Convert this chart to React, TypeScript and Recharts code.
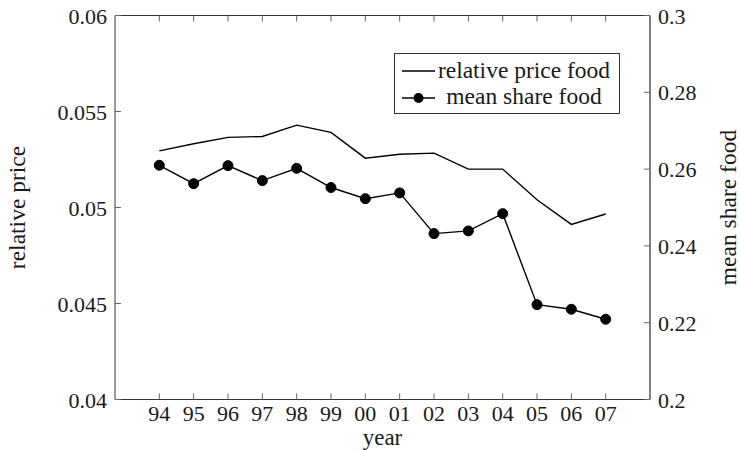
import React from 'react';
import { ComposedChart, Line, XAxis, YAxis, Legend } from 'recharts';

const years = ['94', '95', '96', '97', '98', '99', '00', '01', '02', '03', '04', '05', '06', '07'];
const relativePrice = [0.05295, 0.05332, 0.05365, 0.0537, 0.05429, 0.05391, 0.05257, 0.05277, 0.05283, 0.052, 0.052, 0.0504, 0.04912, 0.04966];
const meanShare = [0.261, 0.2562, 0.2609, 0.257, 0.2602, 0.2552, 0.2523, 0.2538, 0.2432, 0.2439, 0.2484, 0.2247, 0.2235, 0.2209];
const leftTicks = [0.04, 0.045, 0.05, 0.055, 0.06];
const rightTicks = [0.2, 0.22, 0.24, 0.26, 0.28, 0.3];

const data = years.map((y, i) => ({ year: y, price: relativePrice[i], share: meanShare[i] }));

const FONT = 'Liberation Serif, DejaVu Serif, serif';
const TEXT = '#1a1a1a';
const FRAME = '#333';
const TICK = '#666';

const txt = { fontFamily: FONT };

const LeftTick = (props: any) => {
  const { x, y, payload } = props;
  return (
    <g>
      <line x1={x} x2={x + 6} y1={y} y2={y} stroke={TICK} strokeWidth={1} />
      <text x={x - 8} y={y + 8} textAnchor="end" style={txt} fontSize={22} fill={TEXT}>
        {String(payload.value)}
      </text>
    </g>
  );
};

const RightTick = (props: any) => {
  const { x, y, payload } = props;
  return (
    <g>
      <line x1={x} x2={x - 6} y1={y} y2={y} stroke={TICK} strokeWidth={1} />
      <text x={x + 8} y={y + 8} textAnchor="start" style={txt} fontSize={22} fill={TEXT}>
        {String(payload.value)}
      </text>
    </g>
  );
};

const BottomTick = (props: any) => {
  const { x, y, payload } = props;
  return (
    <g>
      <line x1={x} x2={x} y1={y} y2={y - 6} stroke={TICK} strokeWidth={1} />
      <text x={x} y={y + 21.5} textAnchor="middle" style={txt} fontSize={22} fill={TEXT}>
        {payload.value}
      </text>
    </g>
  );
};

const TopTick = (props: any) => {
  const { x, y } = props;
  return <line x1={x} x2={x} y1={y} y2={y + 6} stroke={TICK} strokeWidth={1} />;
};

const LegendBox = (props: any) => {
  const payload = props.payload || [];
  const priceItem = payload.find((p: any) => p.dataKey === 'price');
  const shareItem = payload.find((p: any) => p.dataKey === 'share');
  return (
    <svg width={227} height={62} style={{ display: 'block' }}>
      <rect x={0.5} y={0.5} width={225} height={60} fill="#fff" stroke={FRAME} strokeWidth={1} />
      <line x1={8} x2={41} y1={18} y2={18} stroke="#000" strokeWidth={1.4} />
      <text x={130} y={25} textAnchor="middle" style={txt} fontSize={23.5} fill={TEXT}>
        {priceItem ? priceItem.value : ''}
      </text>
      <line x1={8} x2={41} y1={45} y2={45} stroke="#000" strokeWidth={1.4} />
      <circle cx={24.5} cy={45} r={5} fill="#000" />
      <text x={130} y={51} textAnchor="middle" style={txt} fontSize={23.5} fill={TEXT}>
        {shareItem ? shareItem.value : ''}
      </text>
    </svg>
  );
};

export default function App() {
  return (
    <div style={{ position: 'absolute', left: 0, top: 0, width: 740, height: 450, background: '#fff', fontFamily: FONT }}>
      <ComposedChart width={740} height={450} data={data} margin={{ top: 14.5, right: 0, bottom: 0, left: 0 }}>
        <XAxis
          xAxisId="bottom"
          dataKey="year"
          type="category"
          height={50.5}
          padding={{ left: 44.3, right: 44.3 }}
          interval={0}
          tickSize={0}
          tickMargin={0}
          tick={<BottomTick />}
          axisLine={{ stroke: FRAME, strokeWidth: 1 }}
          tickLine={false}
          label={{
            content: (p: any) => {
              const vb = p.viewBox || {};
              return (
                <text x={vb.x + vb.width / 2} y={445} textAnchor="middle" style={txt} fontSize={23} fill={TEXT}>
                  year
                </text>
              );
            },
          }}
        />
        <XAxis
          xAxisId="top"
          dataKey="year"
          type="category"
          orientation="top"
          height={1}
          padding={{ left: 44.3, right: 44.3 }}
          interval={0}
          tickSize={0}
          tickMargin={0}
          tick={<TopTick />}
          axisLine={{ stroke: FRAME, strokeWidth: 1 }}
          tickLine={false}
        />
        <YAxis
          yAxisId="left"
          orientation="left"
          width={115}
          domain={[0.04, 0.06]}
          ticks={leftTicks}
          interval={0}
          tickSize={0}
          tickMargin={0}
          tick={<LeftTick />}
          axisLine={{ stroke: FRAME, strokeWidth: 1 }}
          tickLine={false}
          label={{
            content: (p: any) => {
              const vb = p.viewBox || {};
              const cx = vb.x + 25;
              const cy = vb.y + vb.height / 2;
              return (
                <text x={cx} y={cy} transform={`rotate(-90, ${cx}, ${cy})`} textAnchor="middle" style={txt} fontSize={23.5} fill={TEXT}>
                  relative price
                </text>
              );
            },
          }}
        />
        <YAxis
          yAxisId="right"
          orientation="right"
          width={90}
          domain={[0.2, 0.3]}
          ticks={rightTicks}
          interval={0}
          tickSize={0}
          tickMargin={0}
          tick={<RightTick />}
          axisLine={{ stroke: '#000', strokeWidth: 1 }}
          tickLine={false}
          label={{
            content: (p: any) => {
              const vb = p.viewBox || {};
              const cx = vb.x + 86;
              const cy = vb.y + vb.height / 2;
              return (
                <text x={cx} y={cy} transform={`rotate(-90, ${cx}, ${cy})`} textAnchor="middle" style={txt} fontSize={23.5} fill={TEXT}>
                  mean share food
                </text>
              );
            },
          }}
        />
        <Legend
          layout="vertical"
          align="center"
          verticalAlign="middle"
          content={<LegendBox />}
          wrapperStyle={{ left: 394, top: 53, width: 227, height: 62 }}
        />
        <Line
          xAxisId="bottom"
          yAxisId="left"
          type="linear"
          dataKey="price"
          name="relative price food"
          stroke="#000"
          strokeWidth={1.4}
          dot={false}
          activeDot={false}
          isAnimationActive={false}
        />
        <Line
          xAxisId="bottom"
          yAxisId="right"
          type="linear"
          dataKey="share"
          name="mean share food"
          stroke="#000"
          strokeWidth={1.4}
          dot={{ r: 5, fill: '#000', stroke: '#000', strokeWidth: 1 }}
          activeDot={false}
          isAnimationActive={false}
        />
      </ComposedChart>
    </div>
  );
}
